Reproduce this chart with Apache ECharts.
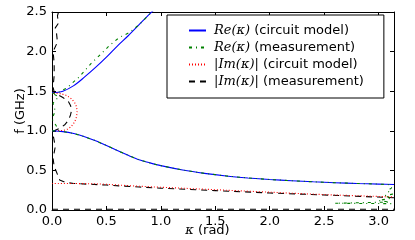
<!DOCTYPE html>
<html>
<head>
<meta charset="utf-8">
<script src="https://cdn.jsdelivr.net/npm/echarts@6/dist/echarts.min.js"></script>
<style>
html,body{margin:0;padding:0;background:#fff;}
#c{width:415px;height:240px;}
</style>
</head>
<body>
<div id="c"></div>
<script>
// ---- data (kappa in rad, f in GHz) ----
const xTicks = [0.0, 0.5, 1.0, 1.5, 2.0, 2.5, 3.0];
const yTicks = [0.0, 0.5, 1.0, 1.5, 2.0, 2.5];

// Re(kappa) circuit model
const reModelUpperK = [0.0, 0.1, 0.2, 0.3, 0.4, 0.5, 0.6, 0.7, 0.8, 0.9, 1.0];
const reModelUpperF = [1.48, 1.50, 1.57, 1.68, 1.80, 1.93, 2.07, 2.20, 2.34, 2.48, 2.61];
const reModelLowerK = [0.0, 0.1, 0.2, 0.3, 0.4, 0.5, 0.6, 0.7, 0.8, 0.9, 1.0, 1.2, 1.4, 1.6, 1.8, 2.0, 2.2, 2.4, 2.6, 2.8, 3.0, 3.1416];
const reModelLowerF = [1.00, 0.99, 0.965, 0.925, 0.875, 0.815, 0.75, 0.69, 0.635, 0.595, 0.56, 0.505, 0.463, 0.43, 0.405, 0.385, 0.37, 0.356, 0.345, 0.335, 0.327, 0.322];

// Re(kappa) measurement
const reMeasUpperK = [0.0, 0.05, 0.135, 0.25, 0.36, 0.45, 0.53, 0.62, 0.71, 0.80, 0.91, 0.95];
const reMeasUpperF = [1.47, 1.48, 1.54, 1.68, 1.85, 1.97, 2.08, 2.18, 2.24, 2.34, 2.49, 2.55];
const reMeasGapK = [0.02, 0.06, 0.01, 0.03, 0.0, 0.04, 0.02];
const reMeasGapF = [1.46, 1.43, 1.35, 1.25, 1.15, 1.06, 1.0];
const reMeasLowerK = [0.0, 0.1, 0.2, 0.3, 0.4, 0.5, 0.6, 0.7, 0.8, 0.9, 1.0, 1.2, 1.4, 1.6, 1.8, 2.0, 2.2, 2.4, 2.6, 2.8, 3.0, 3.1, 3.12, 3.08, 3.13, 3.05, 3.12, 3.0, 3.1, 2.6, 3.14];
const reMeasLowerF = [1.00, 0.99, 0.965, 0.925, 0.875, 0.815, 0.75, 0.69, 0.635, 0.595, 0.56, 0.505, 0.463, 0.43, 0.405, 0.385, 0.37, 0.356, 0.345, 0.335, 0.327, 0.32, 0.28, 0.24, 0.20, 0.18, 0.15, 0.12, 0.10, 0.085, 0.08];

// |Im(kappa)| circuit model
const imModelGapK = [0.0, 0.10, 0.14, 0.18, 0.21, 0.225, 0.23, 0.225, 0.21, 0.18, 0.14, 0.09, 0.0];
const imModelGapF = [1.00, 1.005, 1.02, 1.06, 1.12, 1.18, 1.24, 1.30, 1.35, 1.40, 1.44, 1.465, 1.48];
const imModelLowK = [0.0, 0.4, 0.8, 1.2, 1.6, 2.0, 2.4, 2.8, 3.1416];
const imModelLowF = [0.335, 0.33, 0.30, 0.275, 0.25, 0.225, 0.20, 0.18, 0.165];

// |Im(kappa)| measurement
const imMeasK = [3.1416, 2.5, 2.0, 1.5, 1.0, 0.8, 0.5, 0.35, 0.2, 0.12, 0.07, 0.05, 0.02, 0.01, 0.03, 0.01, 0.02, 0.07, 0.12, 0.15, 0.17, 0.18, 0.17, 0.15, 0.10, 0.05, 0.02, 0.01, 0.02, 0.02, 0.01, 0.05, 0.04, 0.03, 0.06, 0.05, 0.06];
const imMeasF = [0.155, 0.19, 0.215, 0.245, 0.275, 0.29, 0.315, 0.325, 0.335, 0.35, 0.38, 0.45, 0.55, 0.65, 0.8, 0.95, 1.0, 1.03, 1.08, 1.13, 1.20, 1.26, 1.32, 1.37, 1.42, 1.46, 1.49, 1.55, 1.7, 1.85, 2.0, 2.12, 2.25, 2.3, 2.36, 2.45, 2.5];
const imMeasFloorK = [0.0, 3.1416];
const imMeasFloorF = [0.01, 0.01];

const xTitle = '{k|κ} (rad)';
const yTitle = 'f (GHz)';

function pairs(k, f) { return k.map((v, i) => [v, f[i]]); }

const NAMES = ['Re(κ) (circuit model)', 'Re(κ) (measurement)', '|Im(κ)| (circuit model)', '|Im(κ)| (measurement)'];
const BLUE = '#0000ff', GREEN = '#008000', RED = '#ff0000', BLACK = '#000000';
const LW = 1.1;

function ser(name, data, color, type, smooth) {
  return {
    name: name, type: 'line', data: data, showSymbol: false, symbol: 'none',
    smooth: smooth || false,
    clip: true, silent: true, animation: false,
    lineStyle: { color: color, width: LW, type: type },
    itemStyle: { color: color }
  };
}

const DASHDOT = [3, 4, 1, 4];
const DOTTED = [1, 2];
const DASHED = [6, 5];

const series = [
  ser(NAMES[0], pairs(reModelUpperK, reModelUpperF), BLUE, 'solid', 0.3),
  ser(NAMES[1], pairs(reMeasUpperK, reMeasUpperF), GREEN, DASHDOT),
  ser(NAMES[2], pairs(imModelGapK, imModelGapF), RED, DOTTED, 0.3),
  ser(NAMES[3], pairs(imMeasK, imMeasF), BLACK, DASHED),
  ser(NAMES[0], pairs(reModelLowerK, reModelLowerF), BLUE, 'solid', 0.3),
  ser(NAMES[1], pairs(reMeasGapK, reMeasGapF), GREEN, DASHDOT),
  ser(NAMES[1], pairs(reMeasLowerK, reMeasLowerF), GREEN, DASHDOT),
  ser(NAMES[2], pairs(imModelLowK, imModelLowF), RED, DOTTED, 0.3),
  ser(NAMES[3], pairs(imMeasFloorK, imMeasFloorF), BLACK, DASHED)
];

const FONT = 'DejaVu Sans';
const axisCommon = {
  axisLine: { show: true, onZero: false, lineStyle: { color: '#000', width: 1 } },
  axisTick: { show: true, inside: true, length: 4, lineStyle: { color: '#000', width: 1 } },
  splitLine: { show: false }
};

const chart = echarts.init(document.getElementById('c'), null, { renderer: 'canvas' });
chart.setOption({
  animation: false,
  backgroundColor: '#fff',
  grid: { left: 52, right: 21, top: 12, bottom: 30, containLabel: false },
  xAxis: [
    Object.assign({}, axisCommon, {
      type: 'value', position: 'bottom', min: xTicks[0], max: Math.PI, interval: 0.5,
      axisLabel: { show: true, color: '#000', fontFamily: FONT, fontSize: 13, margin: 5,
        showMaxLabel: false, formatter: v => v.toFixed(1) }
    }),
    Object.assign({}, axisCommon, {
      type: 'value', position: 'top', min: xTicks[0], max: Math.PI, interval: 0.5,
      axisLabel: { show: false }
    })
  ],
  yAxis: [
    Object.assign({}, axisCommon, {
      type: 'value', position: 'left', min: yTicks[0], max: yTicks[yTicks.length - 1], interval: 0.5,
      axisLabel: { show: true, color: '#000', fontFamily: FONT, fontSize: 13, margin: 5,
        formatter: v => v.toFixed(1) }
    }),
    Object.assign({}, axisCommon, {
      type: 'value', position: 'right', min: yTicks[0], max: yTicks[yTicks.length - 1], interval: 0.5,
      axisLabel: { show: false }
    })
  ],
  graphic: [
    {
      type: 'text', left: 'center', silent: true,
      x: 223, y: 231,
      style: {
        text: xTitle, x: 0, y: 0, align: 'center', verticalAlign: 'middle',
        fill: '#000', font: '13px "DejaVu Sans"',
        rich: { k: { fontFamily: 'DejaVu Serif', fontStyle: 'italic', fontSize: 13, fill: '#000' } }
      }
    },
    {
      type: 'text', silent: true,
      x: 21, y: 111, rotation: Math.PI / 2,
      style: {
        text: yTitle, x: 0, y: 0, align: 'center', verticalAlign: 'middle',
        fill: '#000', font: '13px "DejaVu Sans"'
      }
    }
  ],
  legend: {
    show: true, orient: 'vertical', left: 167, top: 15,
    data: NAMES,
    backgroundColor: '#fff', borderColor: '#000', borderWidth: 1, borderRadius: 0,
    padding: [9, 20, 10, 21],
    itemWidth: 17, itemHeight: 13, itemGap: 4,
    selectedMode: false,
    itemStyle: { opacity: 0 },
    lineStyle: { inactiveWidth: LW },
    formatter: function (name) {
      const i = name.indexOf(' (');
      return '{m|' + name.slice(0, i) + '}{t|' + name.slice(i) + '}';
    },
    textStyle: {
      color: '#000', fontFamily: FONT, fontSize: 13, padding: [0, 0, 0, 3], lineHeight: 13,
      rich: {
        m: { fontFamily: 'DejaVu Serif', fontStyle: 'italic', fontSize: 13, color: '#000', lineHeight: 13 },
        t: { fontFamily: FONT, fontSize: 13, color: '#000', lineHeight: 13 }
      }
    }
  },
  series: series
});
</script>
</body>
</html>
